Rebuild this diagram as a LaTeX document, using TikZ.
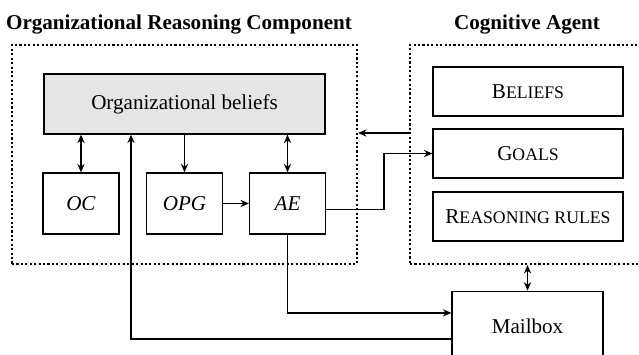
\documentclass[tikz,border=0pt]{standalone}
\usepackage{fontspec}
\setmainfont{Liberation Serif}
\usetikzlibrary{arrows.meta}
\usetikzlibrary{positioning}
\newcommand{\smallcap}[1]{{\fontsize{8.4}{10}\selectfont #1}}

\tikzset{
  block/.style={draw, line width=0.6pt, inner sep=0pt, minimum width=36pt, minimum height=28.9pt},
  agentbox/.style={block, minimum width=90pt, minimum height=23.2pt},
  area/.style={draw, line width=1pt, dash pattern=on 1pt off 1.1pt, inner sep=0pt, minimum height=103.8pt},
  heading/.style={font=\bfseries, anchor=base},
  link/.style={line width=0.6pt, >={Stealth[length=4pt, width=3.4pt, inset=1.3pt]}}
}

\begin{document}
\begin{tikzpicture}[x=0.474pt, y=-0.474pt]
\clip (0,0) rectangle (639,354);

\coordinate (back) at (0,133);
\coordinate (feed) at (131,0);

% the two components
\node[area, minimum width=163.5pt] (orc) at (184.5,154.5) {};
\node[area, minimum width=118.5pt] (ca) at (535,154.5) {};
\node[heading] at (179,29) {Organizational Reasoning Component};
\node[heading] at (527,29) {Cognitive Agent};

\node[block, fill=black!10, minimum width=133.2pt, minimum height=28.4pt] (bel) at (184.5,104) {Organizational beliefs};
\node[block] (oc) at (81,203.5) {\textit{OC}};
\node[block] (opg) at (184.5,203.5) {\textit{OPG}};
\node[block] (ae) at (287.5,203.5) {\textit{AE}};

\node[agentbox] (beliefs) at (528,91.5) {B\smallcap{ELIEFS}};
\node[agentbox] (goals) at (528,153.5) {G\smallcap{OALS}};
\node[agentbox] (rules) at (528,216.5) {R\smallcap{EASONING RULES}};

\node[block, minimum width=71.6pt, minimum height=33pt] (mb) at (527.5,326) {Mailbox};

% connectors
\draw[link,<->] (oc.north) -- (oc |- bel.south);
\draw[link,->] (bel.south -| opg) -- (opg.north);
\draw[link,<->] (ae.north) -- (ae |- bel.south);
\draw[link,->] (opg) -- (ae);
\draw[link,->] ([yshift=-3pt]ae.east) -- ++(58,0) |- (goals.west);
\draw[link,->] (ca.west |- back) -- (orc.east |- back);
\draw[link,<->] (mb.north |- ca.south) -- (mb.north);
\draw[link,->] (ae.south) |- ([yshift=6.2pt]mb.west);
\draw[link,->] ([yshift=-6.2pt]mb.west) -| (bel.south -| feed);
\end{tikzpicture}
\end{document}
